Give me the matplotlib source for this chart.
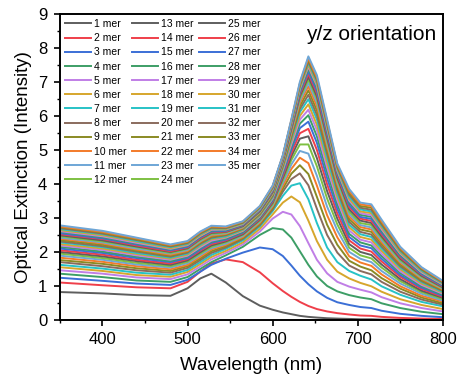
import matplotlib
matplotlib.use("Agg")
from matplotlib import pyplot as plt
from matplotlib.ticker import MultipleLocator

plt.rcParams["font.family"] = ["Liberation Sans", "DejaVu Sans"]

wavelength = [350, 400, 440, 480, 500, 515, 528, 545, 565, 585, 600, 612, 622,
              632, 642, 652, 664, 676, 690, 703, 716, 728, 750, 775, 800]

mer_01 = [0.82, 0.78, 0.73, 0.71, 0.93, 1.22, 1.36, 1.10, 0.70, 0.42, 0.30, 0.22, 0.17,
          0.12, 0.09, 0.07, 0.05, 0.04, 0.03, 0.02, 0.02, 0.01, 0.01, 0.00, 0.00]
mer_02 = [1.10, 1.02, 0.96, 0.93, 1.12, 1.42, 1.66, 1.78, 1.70, 1.40, 1.08, 0.85, 0.68,
          0.53, 0.41, 0.32, 0.25, 0.20, 0.16, 0.13, 0.12, 0.09, 0.06, 0.04, 0.03]
mer_03 = [1.24, 1.15, 1.07, 1.03, 1.18, 1.42, 1.62, 1.80, 1.98, 2.13, 2.08, 1.88, 1.60,
          1.30, 1.05, 0.84, 0.65, 0.52, 0.44, 0.38, 0.35, 0.27, 0.18, 0.12, 0.08]
mer_04 = [1.36, 1.26, 1.16, 1.12, 1.26, 1.50, 1.70, 1.90, 2.15, 2.50, 2.70, 2.66, 2.42,
          2.02, 1.62, 1.28, 1.00, 0.84, 0.73, 0.66, 0.61, 0.49, 0.35, 0.24, 0.17]
mer_05 = [1.46, 1.36, 1.25, 1.20, 1.34, 1.57, 1.78, 1.97, 2.22, 2.60, 2.98, 3.18, 3.10,
          2.76, 2.26, 1.77, 1.37, 1.12, 0.98, 0.89, 0.81, 0.67, 0.49, 0.35, 0.25]
mer_06 = [1.55, 1.44, 1.32, 1.27, 1.41, 1.64, 1.85, 2.03, 2.28, 2.68, 3.10, 3.45, 3.63,
          3.46, 2.92, 2.32, 1.77, 1.42, 1.22, 1.09, 0.99, 0.83, 0.61, 0.44, 0.32]
mer_07 = [1.62, 1.51, 1.39, 1.33, 1.47, 1.70, 1.91, 2.09, 2.34, 2.75, 3.20, 3.65, 3.95,
          4.02, 3.55, 2.85, 2.13, 1.70, 1.44, 1.30, 1.19, 0.99, 0.74, 0.53, 0.40]
mer_08 = [1.70, 1.58, 1.46, 1.39, 1.53, 1.76, 1.97, 2.13, 2.38, 2.79, 3.25, 3.77, 4.14,
          4.31, 3.96, 3.27, 2.50, 1.98, 1.60, 1.44, 1.34, 1.12, 0.83, 0.60, 0.45]
mer_09 = [1.76, 1.65, 1.52, 1.44, 1.58, 1.81, 2.02, 2.17, 2.41, 2.82, 3.29, 3.86, 4.30,
          4.55, 4.29, 3.62, 2.80, 2.21, 1.74, 1.57, 1.46, 1.23, 0.92, 0.66, 0.49]
mer_10 = [1.83, 1.71, 1.58, 1.49, 1.62, 1.86, 2.07, 2.21, 2.44, 2.86, 3.34, 3.95, 4.44,
          4.77, 4.61, 3.95, 3.08, 2.43, 1.87, 1.69, 1.59, 1.34, 0.99, 0.71, 0.54]
mer_11 = [1.89, 1.77, 1.63, 1.54, 1.67, 1.91, 2.11, 2.24, 2.47, 2.89, 3.37, 4.03, 4.57,
          4.97, 4.89, 4.24, 3.33, 2.63, 2.00, 1.80, 1.70, 1.44, 1.07, 0.77, 0.57]
mer_12 = [1.95, 1.82, 1.68, 1.58, 1.71, 1.95, 2.15, 2.28, 2.50, 2.92, 3.41, 4.11, 4.70,
          5.16, 5.16, 4.52, 3.57, 2.81, 2.12, 1.90, 1.81, 1.54, 1.14, 0.82, 0.61]
mer_13 = [2.00, 1.87, 1.73, 1.62, 1.75, 1.99, 2.19, 2.31, 2.52, 2.95, 3.45, 4.18, 4.81,
          5.33, 5.40, 4.76, 3.79, 2.98, 2.23, 2.00, 1.91, 1.63, 1.20, 0.86, 0.65]
mer_14 = [2.05, 1.92, 1.77, 1.66, 1.79, 2.04, 2.23, 2.34, 2.55, 2.97, 3.48, 4.24, 4.91,
          5.49, 5.62, 5.00, 3.99, 3.13, 2.34, 2.10, 2.01, 1.72, 1.27, 0.91, 0.68]
mer_15 = [2.10, 1.97, 1.82, 1.70, 1.82, 2.07, 2.27, 2.36, 2.57, 3.00, 3.51, 4.30, 5.01,
          5.64, 5.83, 5.21, 4.17, 3.27, 2.44, 2.19, 2.11, 1.80, 1.32, 0.95, 0.71]
mer_16 = [2.15, 2.01, 1.86, 1.73, 1.86, 2.11, 2.30, 2.39, 2.59, 3.02, 3.54, 4.35, 5.10,
          5.77, 6.02, 5.40, 4.34, 3.40, 2.53, 2.28, 2.19, 1.88, 1.38, 0.99, 0.74]
mer_17 = [2.19, 2.06, 1.90, 1.77, 1.89, 2.14, 2.33, 2.42, 2.62, 3.05, 3.57, 4.40, 5.17,
          5.89, 6.18, 5.58, 4.49, 3.52, 2.63, 2.36, 2.28, 1.95, 1.43, 1.03, 0.77]
mer_18 = [2.23, 2.10, 1.94, 1.80, 1.92, 2.18, 2.37, 2.44, 2.64, 3.07, 3.60, 4.45, 5.25,
          6.00, 6.34, 5.74, 4.64, 3.63, 2.72, 2.44, 2.36, 2.03, 1.49, 1.07, 0.80]
mer_19 = [2.28, 2.14, 1.97, 1.83, 1.95, 2.21, 2.40, 2.46, 2.66, 3.09, 3.62, 4.49, 5.32,
          6.11, 6.49, 5.90, 4.77, 3.73, 2.80, 2.52, 2.44, 2.10, 1.54, 1.11, 0.82]
mer_20 = [2.31, 2.17, 2.01, 1.86, 1.98, 2.24, 2.42, 2.49, 2.68, 3.11, 3.65, 4.53, 5.38,
          6.20, 6.62, 6.03, 4.89, 3.82, 2.88, 2.59, 2.51, 2.16, 1.58, 1.14, 0.85]
mer_21 = [2.35, 2.21, 2.04, 1.89, 2.01, 2.27, 2.45, 2.51, 2.69, 3.13, 3.67, 4.56, 5.43,
          6.29, 6.75, 6.16, 5.00, 3.91, 2.96, 2.66, 2.59, 2.23, 1.63, 1.17, 0.87]
mer_22 = [2.39, 2.25, 2.07, 1.92, 2.03, 2.30, 2.48, 2.53, 2.71, 3.15, 3.70, 4.60, 5.49,
          6.38, 6.87, 6.29, 5.11, 3.99, 3.04, 2.73, 2.66, 2.29, 1.68, 1.21, 0.90]
mer_23 = [2.42, 2.28, 2.10, 1.95, 2.06, 2.32, 2.51, 2.55, 2.73, 3.17, 3.72, 4.63, 5.54,
          6.45, 6.97, 6.40, 5.20, 4.06, 3.11, 2.79, 2.72, 2.35, 1.72, 1.24, 0.92]
mer_24 = [2.46, 2.31, 2.14, 1.97, 2.09, 2.35, 2.53, 2.57, 2.75, 3.18, 3.74, 4.66, 5.59,
          6.52, 7.07, 6.50, 5.29, 4.13, 3.18, 2.85, 2.79, 2.41, 1.76, 1.27, 0.94]
mer_25 = [2.49, 2.34, 2.16, 2.00, 2.11, 2.38, 2.56, 2.59, 2.76, 3.20, 3.76, 4.68, 5.62,
          6.58, 7.15, 6.58, 5.37, 4.19, 3.25, 2.92, 2.85, 2.46, 1.80, 1.30, 0.96]
mer_26 = [2.52, 2.38, 2.19, 2.02, 2.13, 2.40, 2.58, 2.60, 2.78, 3.22, 3.78, 4.71, 5.66,
          6.64, 7.24, 6.67, 5.44, 4.25, 3.32, 2.98, 2.91, 2.52, 1.84, 1.33, 0.98]
mer_27 = [2.55, 2.40, 2.22, 2.05, 2.15, 2.43, 2.60, 2.62, 2.79, 3.23, 3.80, 4.72, 5.70,
          6.69, 7.31, 6.74, 5.50, 4.30, 3.38, 3.03, 2.97, 2.57, 1.88, 1.35, 1.00]
mer_28 = [2.59, 2.43, 2.25, 2.07, 2.18, 2.45, 2.63, 2.64, 2.81, 3.25, 3.82, 4.75, 5.73,
          6.74, 7.39, 6.83, 5.58, 4.35, 3.45, 3.09, 3.03, 2.62, 1.91, 1.38, 1.02]
mer_29 = [2.61, 2.46, 2.27, 2.09, 2.20, 2.47, 2.65, 2.66, 2.82, 3.26, 3.84, 4.76, 5.76,
          6.79, 7.45, 6.89, 5.63, 4.39, 3.51, 3.14, 3.08, 2.67, 1.95, 1.40, 1.04]
mer_30 = [2.64, 2.49, 2.30, 2.11, 2.22, 2.49, 2.67, 2.67, 2.83, 3.28, 3.86, 4.78, 5.79,
          6.82, 7.50, 6.94, 5.68, 4.43, 3.56, 3.19, 3.14, 2.72, 1.98, 1.43, 1.06]
mer_31 = [2.67, 2.52, 2.32, 2.14, 2.24, 2.52, 2.69, 2.69, 2.85, 3.29, 3.88, 4.80, 5.81,
          6.86, 7.56, 7.00, 5.73, 4.47, 3.62, 3.25, 3.19, 2.77, 2.02, 1.45, 1.08]
mer_32 = [2.70, 2.54, 2.35, 2.16, 2.26, 2.54, 2.71, 2.70, 2.86, 3.31, 3.90, 4.81, 5.83,
          6.90, 7.60, 7.05, 5.77, 4.50, 3.68, 3.30, 3.24, 2.81, 2.05, 1.48, 1.10]
mer_33 = [2.73, 2.57, 2.37, 2.18, 2.28, 2.56, 2.73, 2.72, 2.87, 3.32, 3.92, 4.82, 5.85,
          6.93, 7.65, 7.10, 5.81, 4.53, 3.74, 3.35, 3.30, 2.86, 2.08, 1.50, 1.12]
mer_34 = [2.75, 2.59, 2.40, 2.20, 2.30, 2.58, 2.75, 2.73, 2.89, 3.34, 3.93, 4.83, 5.88,
          6.96, 7.70, 7.14, 5.85, 4.56, 3.79, 3.40, 3.35, 2.90, 2.12, 1.53, 1.13]
mer_35 = [2.78, 2.62, 2.42, 2.22, 2.32, 2.60, 2.77, 2.75, 2.90, 3.35, 3.95, 4.85, 5.90,
          7.00, 7.75, 7.20, 5.90, 4.60, 3.85, 3.45, 3.40, 2.95, 2.15, 1.55, 1.15]

spectra = [mer_01, mer_02, mer_03, mer_04, mer_05, mer_06, mer_07, mer_08, mer_09,
           mer_10, mer_11, mer_12, mer_13, mer_14, mer_15, mer_16, mer_17, mer_18,
           mer_19, mer_20, mer_21, mer_22, mer_23, mer_24, mer_25, mer_26, mer_27,
           mer_28, mer_29, mer_30, mer_31, mer_32, mer_33, mer_34, mer_35]
labels = [f"{i} mer" for i in range(1, 36)]

# 12-colour cycle as used by the original plot
palette = ["#5e5e5e", "#ef3f4a", "#3b6fd6", "#3d9e66", "#c07ee6", "#d6a62c",
           "#27c2c6", "#8a6b5d", "#8a8a24", "#f37b2a", "#6ea6d6", "#7ec042"]

fig = plt.figure(figsize=(4.57, 3.85), dpi=100)
ax = fig.add_axes([0.131, 0.169, 0.838, 0.795])

for i, (vals, lab) in enumerate(zip(spectra, labels)):
    ax.plot(wavelength, vals, color=palette[i % 12], lw=1.4, label=lab,
            solid_joinstyle="round")

ax.set_xlim(350, 800)
ax.set_ylim(0, 9)
ax.xaxis.set_major_locator(MultipleLocator(100))
ax.xaxis.set_minor_locator(MultipleLocator(50))
ax.yaxis.set_major_locator(MultipleLocator(1))
ax.yaxis.set_minor_locator(MultipleLocator(0.5))
ax.tick_params(which="major", direction="out", length=4, width=1.2, labelsize=12,
               pad=5, top=False, right=False)
ax.tick_params(which="minor", direction="out", length=2.5, width=1.0,
               top=False, right=False)
for sp in ax.spines.values():
    sp.set_linewidth(1.4)

ax.set_xlabel("Wavelength (nm)", fontsize=13.5, labelpad=7)
ax.set_ylabel("Optical Extinction (Intensity)", fontsize=13.5, labelpad=4)

ax.text(0.983, 0.965, "y/z orientation", transform=ax.transAxes, ha="right", va="top",
        fontsize=15)

ax.legend(loc="upper left", bbox_to_anchor=(0.0, 1.0), ncol=3, frameon=False,
          fontsize=7.5, handlelength=2.5, handletextpad=0.3, columnspacing=0.5,
          labelspacing=0.4, borderpad=0.3, borderaxespad=0.2)

fig.savefig("out.png", dpi=100)
